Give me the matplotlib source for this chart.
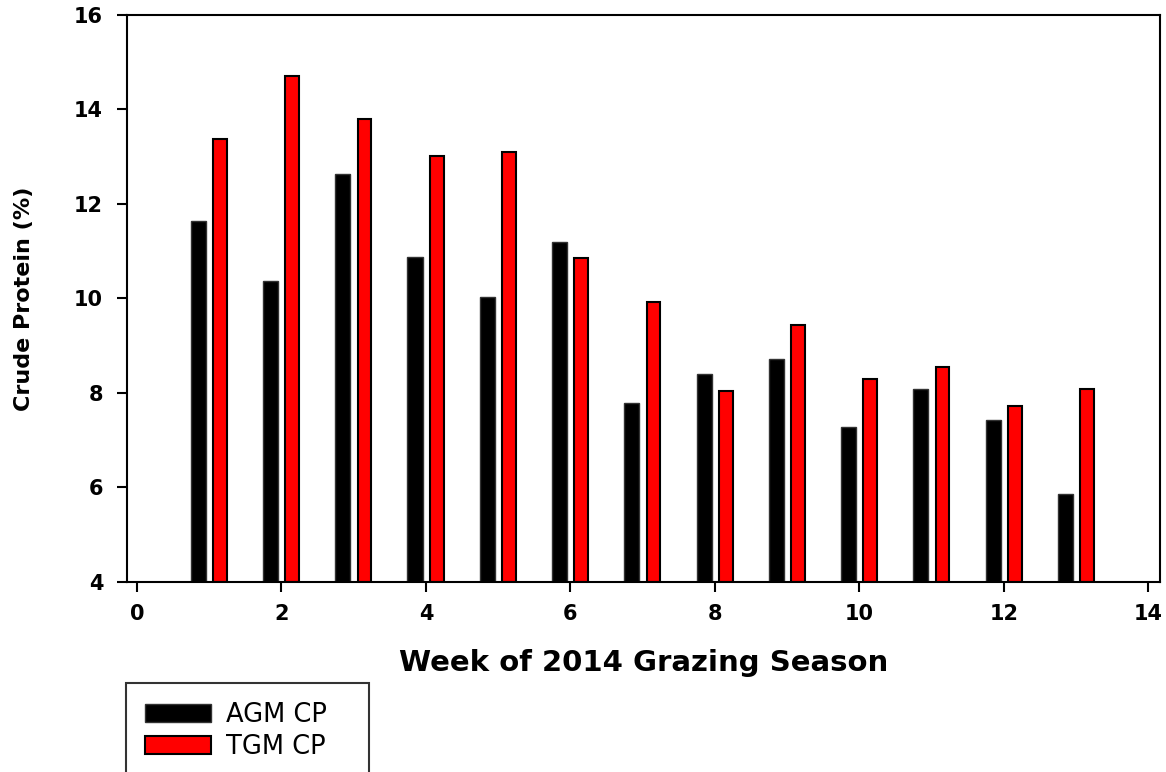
import matplotlib
matplotlib.use('Agg')
import matplotlib.pyplot as plt
import numpy as np

weeks = [1, 2, 3, 4, 5, 6, 7, 8, 9, 10, 11, 12, 13]
agm_cp = [11.64, 10.36, 12.64, 10.88, 10.03, 11.2, 7.78, 8.39, 8.72, 7.28, 8.08, 7.43, 5.86]
tgm_cp = [13.37, 14.70, 13.80, 13.01, 13.1, 10.86, 9.93, 8.04, 9.43, 8.30, 8.55, 7.72, 8.09]
x_ticks = [0, 2, 4, 6, 8, 10, 12, 14]
y_ticks = [4, 6, 8, 10, 12, 14, 16]

plt.rcParams['font.family'] = ['DejaVu Sans']


def main():
    fig = plt.figure(figsize=(11.66, 7.72), dpi=100)
    ax = fig.add_axes([0.1087, 0.2465, 0.8862, 0.7341])

    x = np.array(weeks, dtype=float)
    ax.bar(x - 0.15, np.array(agm_cp) - 4, width=0.21, bottom=4, color='black',
           edgecolor='#333333', linewidth=1.0, label='AGM CP')
    ax.bar(x + 0.15, np.array(tgm_cp) - 4, width=0.19, bottom=4, color='red',
           edgecolor='black', linewidth=1.5, label='TGM CP')

    ax.set_xlim(-0.14, 14.16)
    ax.set_ylim(4, 16)
    ax.set_xticks(x_ticks)
    ax.set_yticks(y_ticks)
    ax.tick_params(direction='out', length=7, width=1.5, labelsize=15)
    ax.tick_params(axis='x', pad=9)
    ax.tick_params(axis='y', pad=10)
    for lbl in ax.get_xticklabels() + ax.get_yticklabels():
        lbl.set_fontweight('bold')
    for s in ax.spines.values():
        s.set_linewidth(1.5)

    ax.set_xlabel('Week of 2014 Grazing Season', fontsize=21, fontweight='bold', labelpad=18)
    ax.set_ylabel('Crude Protein (%)', fontsize=16, fontweight='bold', labelpad=29)

    leg = fig.legend(loc='upper left', bbox_to_anchor=(126 / 1166, 0, 243 / 1166, 1 - 683 / 772),
                     mode='expand',
                     fontsize=18.5, handlelength=2.55, handleheight=0.68, handletextpad=0.6,
                     borderpad=0.75, labelspacing=0.22, fancybox=False, edgecolor='black',
                     borderaxespad=0)
    leg.get_frame().set_linewidth(1.5)

    fig.savefig('out.png', dpi=100)


if __name__ == '__main__':
    main()
